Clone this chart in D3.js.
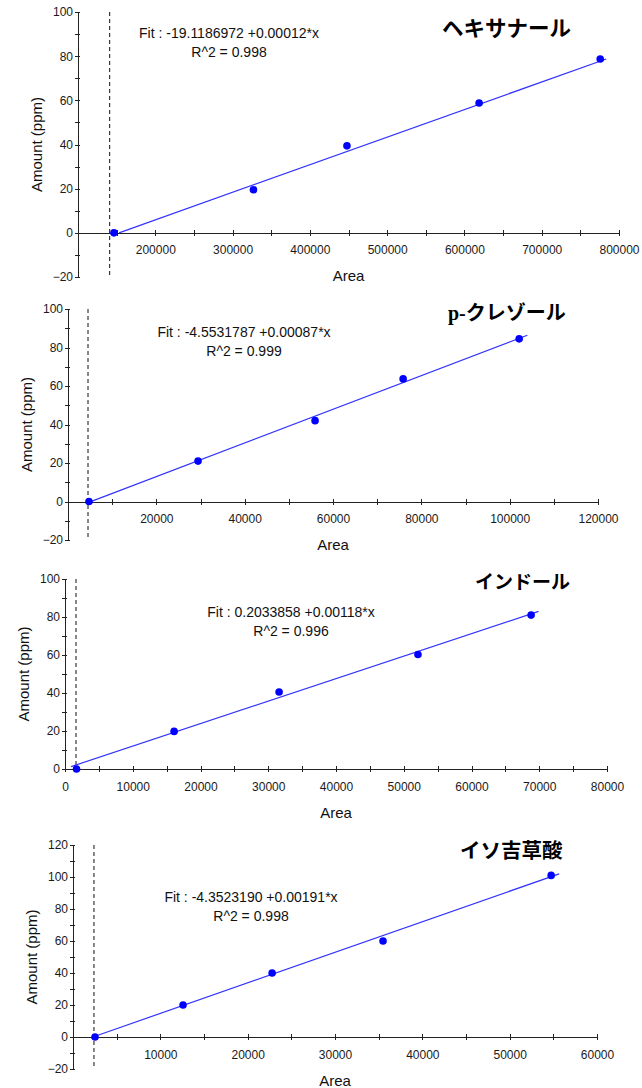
<!DOCTYPE html>
<html>
<head>
<meta charset="utf-8">
<script src="https://cdn.jsdelivr.net/npm/d3@7/dist/d3.min.js"></script>
<style>
  html, body { margin: 0; padding: 0; background: #fff; }
  svg { display: block; }
  .tick text { font-family: "Liberation Sans", Arial, sans-serif; font-size: 12px; fill: #1a1a1a; }
  .axis path, .axis line { stroke: #222; stroke-width: 1; shape-rendering: crispEdges; }
  .axis-title { font-family: "Liberation Sans", Arial, sans-serif; font-size: 15px; fill: #111; }
  .fit-text { font-family: "Liberation Sans", Arial, sans-serif; font-size: 14px; fill: #111; }
  .compound { font-family: "Liberation Serif", "Noto Sans CJK JP", serif; font-weight: 700; fill: #000; }
</style>
</head>
<body>
<svg id="chart" width="642" height="1088"></svg>
<script>
// Compound names
const compounds = ["ヘキサナール", "p-クレゾール", "インドール", "イソ吉草酸"];

// Calibration points: peak area vs. amount (ppm)
const hexanalArea   = [146500, 327000, 448000, 619000, 775700];
const hexanalAmount = [0, 19.5, 39.4, 58.8, 78.7];
const cresolArea    = [4750, 29440, 55940, 75880, 102150];
const cresolAmount  = [0, 21, 42, 63.7, 84.5];
const indoleArea    = [1700, 16100, 31600, 52100, 68800];
const indoleAmount  = [0, 19.8, 40.5, 60.3, 81];
const isovalArea    = [2520, 12600, 22800, 35500, 54750];
const isovalAmount  = [0, 20, 40, 60, 101];

// Linear fits: intercept, slope, R^2 and the area range the fit line covers
const fitIntercept = [-19.1186972, -4.5531787, 0.2033858, -4.3523190];
const fitSlope     = [0.0001249, 0.000874, 0.001184, 0.00191];
const fitR2        = [0.998, 0.999, 0.996, 0.998];
const fitRange     = [[153070, 783500], [5000, 104000], [900, 69900], [2280, 55670]];

// Vertical dashed reference line (area)
const markerArea = [141000, 4530, 1625, 2400];

// Axis domains and tick values
const xDomains = [[100000, 800000], [0, 120000], [0, 80000], [0, 60000]];
const yDomains = [[-20, 100], [-20, 100], [0, 100], [-20, 120]];
const xMajorTicks = [
  [200000, 300000, 400000, 500000, 600000, 700000, 800000],
  [20000, 40000, 60000, 80000, 100000, 120000],
  [0, 10000, 20000, 30000, 40000, 50000, 60000, 70000, 80000],
  [10000, 20000, 30000, 40000, 50000, 60000]
];
const xMinorStep = [50000, 10000, 5000, 5000];
const yMajorTicks = [
  [-20, 0, 20, 40, 60, 80, 100],
  [-20, 0, 20, 40, 60, 80, 100],
  [0, 20, 40, 60, 80, 100],
  [-20, 0, 20, 40, 60, 80, 100, 120]
];
const yMinorStep = [10, 10, 10, 10];

// Panel layout (pixel frames and annotation placement)
const layout = [
  { x0: 78, x1: 619, yTop: 12,  yBot: 277,  fitX: 229, fitY: 38,  titleX: 442, titleY: 29,  titleSize: 21.5 },
  { x0: 68, x1: 598, yTop: 309, yBot: 540,  fitX: 244, fitY: 337, titleX: 448, titleY: 313, titleSize: 20 },
  { x0: 65, x1: 607, yTop: 579, yBot: 769,  fitX: 291, fitY: 617, titleX: 475, titleY: 582, titleSize: 19 },
  { x0: 73, x1: 597, yTop: 845, yBot: 1069, fitX: 251, fitY: 902, titleX: 460, titleY: 851, titleSize: 20.5 }
];

const areas = [hexanalArea, cresolArea, indoleArea, isovalArea];
const amounts = [hexanalAmount, cresolAmount, indoleAmount, isovalAmount];

const svg = d3.select("#chart");

function fmtIntercept(v) {
  return (v < 0 ? "-" : "") + Math.abs(v).toFixed(7);
}

function rangeStep(lo, hi, step) {
  const out = [];
  for (let v = lo; v <= hi + 1e-9; v += step) out.push(v);
  return out;
}

compounds.forEach((name, i) => {
  const L = layout[i];
  const g = svg.append("g");

  const x = d3.scaleLinear().domain(xDomains[i]).range([L.x0, L.x1]);
  const y = d3.scaleLinear().domain(yDomains[i]).range([L.yBot, L.yTop]);

  // Minor ticks (unlabelled), crossing the axis lines
  const xMinor = rangeStep(xDomains[i][0], xDomains[i][1], xMinorStep[i]);
  const yMinor = rangeStep(yDomains[i][0], yDomains[i][1], yMinorStep[i]);

  const yAxisMinor = g.append("g").attr("class", "axis")
    .attr("transform", `translate(${L.x0},0)`)
    .call(d3.axisLeft(y).tickValues(yMinor).tickFormat("").tickSize(3).tickSizeOuter(0));
  yAxisMinor.select(".domain").remove();
  yAxisMinor.selectAll(".tick line").attr("x1", 2).attr("x2", -3);

  const xAxisMinor = g.append("g").attr("class", "axis")
    .attr("transform", `translate(0,${y(0)})`)
    .call(d3.axisBottom(x).tickValues(xMinor).tickFormat("").tickSize(3).tickSizeOuter(0));
  xAxisMinor.select(".domain").remove();
  xAxisMinor.selectAll(".tick line").attr("y1", -3).attr("y2", 3);

  // Labelled Y axis
  const yAxis = g.append("g").attr("class", "axis")
    .attr("transform", `translate(${L.x0},0)`)
    .call(d3.axisLeft(y).tickValues(yMajorTicks[i]).tickFormat(d3.format("d"))
      .tickSize(3).tickSizeOuter(0).tickPadding(2));
  yAxis.selectAll(".tick line").attr("x1", 2).attr("x2", -3);

  // Labelled X axis, drawn along amount = 0
  const xAxis = g.append("g").attr("class", "axis")
    .attr("transform", `translate(0,${y(0)})`)
    .call(d3.axisBottom(x).tickValues(xMajorTicks[i]).tickFormat(d3.format("d"))
      .tickSize(3).tickSizeOuter(0).tickPadding(10));
  xAxis.selectAll(".tick line").attr("y1", -3).attr("y2", 3);

  // Axis titles
  g.append("text").attr("class", "axis-title")
    .attr("x", (L.x0 + L.x1) / 2).attr("y", y(0) + 43)
    .attr("text-anchor", "middle").attr("dominant-baseline", "central")
    .text("Area");
  g.append("text").attr("class", "axis-title")
    .attr("transform", `translate(${L.x0 - 42},${(L.yTop + L.yBot) / 2}) rotate(-90)`)
    .attr("text-anchor", "middle").attr("dominant-baseline", "central")
    .text("Amount (ppm)");

  // Dashed reference line
  g.append("line")
    .attr("x1", x(markerArea[i])).attr("x2", x(markerArea[i]))
    .attr("y1", L.yTop).attr("y2", L.yBot)
    .attr("stroke", "#111").attr("stroke-width", 1)
    .attr("stroke-dasharray", "4,3");

  // Fit line
  const b = fitIntercept[i], m = fitSlope[i];
  const fitPts = fitRange[i].map(a => [a, b + m * a]);
  g.append("path")
    .attr("d", d3.line().x(d => x(d[0])).y(d => y(d[1]))(fitPts))
    .attr("fill", "none").attr("stroke", "#3333ff").attr("stroke-width", 1.2);

  // Calibration points
  g.selectAll("circle.pt")
    .data(areas[i].map((a, k) => ({ a, v: amounts[i][k] })))
    .join("circle").attr("class", "pt")
    .attr("cx", d => x(d.a)).attr("cy", d => y(d.v))
    .attr("r", 3.8).attr("fill", "#0000ff");

  // Fit annotation
  g.append("text").attr("class", "fit-text")
    .attr("x", L.fitX).attr("y", L.fitY).attr("text-anchor", "middle")
    .text(`Fit : ${fmtIntercept(b)} +${m.toFixed(5)}*x`);
  g.append("text").attr("class", "fit-text")
    .attr("x", L.fitX).attr("y", L.fitY + 19).attr("text-anchor", "middle")
    .text(`R^2 = ${fitR2[i].toFixed(3)}`);

  // Compound name
  g.append("text").attr("class", "compound")
    .attr("x", L.titleX).attr("y", L.titleY)
    .attr("font-size", L.titleSize)
    .attr("dominant-baseline", "central")
    .text(name);
});
</script>
</body>
</html>
